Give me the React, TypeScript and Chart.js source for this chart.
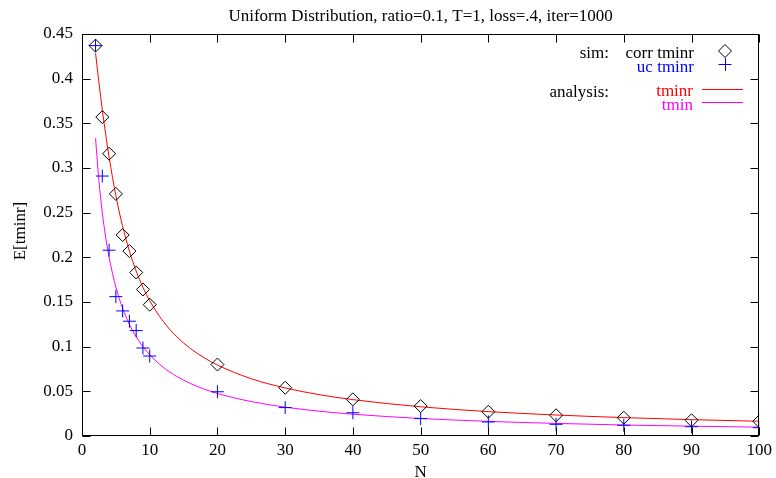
import React, { useEffect, useRef } from "react";
import { Chart, registerables } from "chart.js";

Chart.register(...registerables);

const TITLE = "Uniform Distribution, ratio=0.1, T=1, loss=.4, iter=1000";
const X_LABEL = "N";
const Y_LABEL = "E[tminr]";

const N_SIM = [2, 3, 4, 5, 6, 7, 8, 9, 10, 20, 30, 40, 50, 60, 70, 80, 90, 100];
const CORR_TMINR = [0.437, 0.357, 0.316, 0.271, 0.225, 0.207, 0.183, 0.164, 0.147, 0.08, 0.054, 0.041, 0.0335, 0.0272, 0.0232, 0.0205, 0.0176, 0.0165];
const UC_TMINR = [0.437, 0.291, 0.208, 0.156, 0.14, 0.1285, 0.118, 0.0985, 0.0895, 0.0495, 0.0318, 0.026, 0.0195, 0.0157, 0.0131, 0.012, 0.0104, 0.0093];

const N_CURVE = [2, 2.5, 3, 3.5, 4, 5, 6, 7, 8, 9, 10, 12, 14, 16, 18, 20, 25, 30, 35, 40, 50, 60, 70, 80, 90, 100];
const TMINR_CURVE = [0.4286, 0.3958, 0.365, 0.3375, 0.3123, 0.269, 0.2346, 0.2069, 0.1846, 0.1664, 0.1514, 0.1282, 0.1111, 0.098, 0.0877, 0.0794, 0.0641, 0.0538, 0.0463, 0.0407, 0.0327, 0.0273, 0.0235, 0.0206, 0.0183, 0.0165];
const TMIN_CURVE = [0.3333, 0.2857, 0.25, 0.2222, 0.2, 0.1667, 0.1429, 0.125, 0.1111, 0.1, 0.0909, 0.0769, 0.0667, 0.0588, 0.0526, 0.0476, 0.0385, 0.0323, 0.0278, 0.0244, 0.0196, 0.0164, 0.0141, 0.0123, 0.011, 0.0099];

const X_TICKS = [0, 10, 20, 30, 40, 50, 60, 70, 80, 90, 100];
const Y_TICKS = [0, 0.05, 0.1, 0.15, 0.2, 0.25, 0.3, 0.35, 0.4, 0.45];

const FONT = "'Liberation Serif', 'Times New Roman', serif";
const FONT_SIZE = 17;
const RED = "#ff0000";
const MAGENTA = "#ff00ff";
const BLUE = "#0000ff";

const fmt = (v: number) => String(parseFloat(v.toFixed(2)));

const framePlugin = {
  id: "gnuplotFrame",
  afterDraw(chart: any) {
    const ctx = chart.ctx as CanvasRenderingContext2D;
    const { left, right, top, bottom } = chart.chartArea;
    const xs = chart.scales.x;
    const ys = chart.scales.y;
    ctx.save();
    ctx.strokeStyle = "#000";
    ctx.lineWidth = 1;
    const L = Math.round(left) + 0.5;
    const R = Math.round(right) - 0.5;
    const T = Math.round(top) + 0.5;
    const B = Math.round(bottom) - 0.5;
    ctx.strokeRect(L, T, R - L, B - T);
    const tl = 8;
    ctx.beginPath();
    X_TICKS.forEach((v) => {
      const px = Math.round(xs.getPixelForValue(v)) + 0.5;
      ctx.moveTo(px, B);
      ctx.lineTo(px, B - tl);
      ctx.moveTo(px, T);
      ctx.lineTo(px, T + tl);
    });
    Y_TICKS.forEach((v) => {
      const py = Math.round(ys.getPixelForValue(v)) + 0.5;
      ctx.moveTo(L, py);
      ctx.lineTo(L + tl, py);
      ctx.moveTo(R, py);
      ctx.lineTo(R - tl, py);
    });
    ctx.stroke();

    ctx.font = `${FONT_SIZE}px ${FONT}`;
    ctx.fillStyle = "#000";
    ctx.textBaseline = "alphabetic";
    ctx.textAlign = "center";
    ctx.fillText(TITLE, (left + right) / 2, 21);
    ctx.fillText(X_LABEL, (left + right) / 2, 476.5);
    ctx.save();
    ctx.translate(25, 231);
    ctx.rotate(-Math.PI / 2);
    ctx.fillText(Y_LABEL, 0, 0);
    ctx.restore();

    // key
    ctx.textAlign = "right";
    ctx.fillStyle = "#000";
    ctx.fillText("sim:", 609, 58);
    ctx.fillText("corr tminr", 694, 58);
    ctx.fillStyle = BLUE;
    ctx.fillText("uc tminr", 694, 71.5);
    ctx.fillStyle = "#000";
    ctx.fillText("analysis:", 609, 97);
    ctx.fillStyle = RED;
    ctx.fillText("tminr", 693, 96);
    ctx.fillStyle = MAGENTA;
    ctx.fillText("tmin", 693, 109.5);

    // key samples
    const r = 6.5;
    ctx.strokeStyle = "#000";
    ctx.beginPath();
    ctx.moveTo(725, 51 - r);
    ctx.lineTo(725 + r, 51);
    ctx.lineTo(725, 51 + r);
    ctx.lineTo(725 - r, 51);
    ctx.closePath();
    ctx.stroke();
    ctx.strokeStyle = BLUE;
    ctx.beginPath();
    ctx.moveTo(725 - r, 64.5);
    ctx.lineTo(725 + r, 64.5);
    ctx.moveTo(725.5, 64.5 - r);
    ctx.lineTo(725.5, 64.5 + r);
    ctx.stroke();
    ctx.fillStyle = RED;
    ctx.fillRect(702, 89, 41, 1);
    ctx.fillStyle = MAGENTA;
    ctx.fillRect(702, 102, 41, 1);
    ctx.restore();
  },
};

export default function App() {
  const ref = useRef<HTMLCanvasElement | null>(null);
  useEffect(() => {
    document.body.style.margin = "0";
    const canvas = ref.current;
    if (!canvas) return;
    const chart = new Chart(canvas, {
      type: "scatter",
      data: {
        datasets: [
          {
            label: "corr tminr",
            data: N_SIM.map((n, i) => ({ x: n, y: CORR_TMINR[i] })),
            showLine: false,
            pointStyle: "rectRot",
            pointRadius: 6.5,
            pointBorderColor: "#000",
            pointBackgroundColor: "rgba(0,0,0,0)",
            pointBorderWidth: 1,
          },
          {
            label: "uc tminr",
            data: N_SIM.map((n, i) => ({ x: n, y: UC_TMINR[i] })),
            showLine: false,
            pointStyle: "cross",
            pointRadius: 6.5,
            pointBorderColor: BLUE,
            pointBackgroundColor: BLUE,
            pointBorderWidth: 1,
          },
          {
            label: "tminr",
            data: N_CURVE.map((n, i) => ({ x: n, y: TMINR_CURVE[i] })),
            showLine: true,
            borderColor: RED,
            borderWidth: 1,
            pointRadius: 0,
            cubicInterpolationMode: "monotone",
          },
          {
            label: "tmin",
            data: N_CURVE.map((n, i) => ({ x: n, y: TMIN_CURVE[i] })),
            showLine: true,
            borderColor: MAGENTA,
            borderWidth: 1,
            pointRadius: 0,
            cubicInterpolationMode: "monotone",
          },
        ],
      },
      options: {
        responsive: false,
        animation: false,
        events: [],
        layout: { padding: { left: 0, top: 34, right: 12, bottom: 0 } },
        plugins: {
          legend: { display: false },
          title: { display: false },
          tooltip: { enabled: false },
        },
        scales: {
          x: {
            type: "linear",
            min: 0,
            max: 100,
            grid: { display: false, drawTicks: false },
            border: { display: false },
            afterBuildTicks: (s: any) => {
              s.ticks = X_TICKS.map((v) => ({ value: v }));
            },
            afterFit: (s: any) => {
              s.height = 42;
            },
            ticks: {
              color: "#000",
              padding: 4,
              maxRotation: 0,
              autoSkip: false,
              font: { family: FONT, size: FONT_SIZE },
              callback: (v: any) => String(v),
            },
          },
          y: {
            type: "linear",
            min: 0,
            max: 0.45,
            grid: { display: false, drawTicks: false },
            border: { display: false },
            afterBuildTicks: (s: any) => {
              s.ticks = Y_TICKS.map((v) => ({ value: v }));
            },
            afterFit: (s: any) => {
              s.width = 82;
            },
            ticks: {
              color: "#000",
              padding: 9,
              autoSkip: false,
              font: { family: FONT, size: FONT_SIZE },
              callback: (v: any) => fmt(Number(v)),
            },
          },
        },
      },
      plugins: [framePlugin],
    } as any);
    return () => chart.destroy();
  }, []);
  return (
    <div style={{ position: "absolute", left: 0, top: 0, width: 776, height: 478, background: "#fff" }}>
      <canvas ref={ref} width={776} height={478} style={{ width: 776, height: 478, display: "block" }} />
    </div>
  );
}
